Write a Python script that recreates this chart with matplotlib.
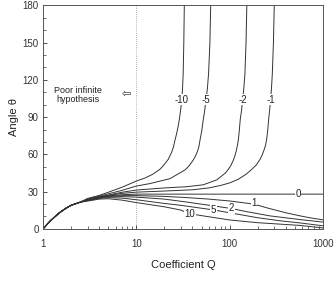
import matplotlib
matplotlib.use("Agg")
import matplotlib.pyplot as plt

plt.rcParams['font.family'] = ['Liberation Sans', 'DejaVu Sans']

# shared start of all curves
Q_START = [1, 1.1, 1.2, 1.35, 1.5, 1.75, 2, 2.5]
T_START = [0, 3.5, 6.5, 10, 13, 16.5, 19, 21.5]

curves = {
    "-10": ([3, 4, 5, 7, 10, 12.4, 15, 17.9, 19.5, 22, 24, 25, 26, 27, 28, 28.9, 29.8, 30.7, 31.3, 31.8, 32.3, 32.7],
            [24.5, 27, 29.5, 33.5, 38.5, 41, 44, 48, 51, 56, 62, 66, 71.6, 76.5, 82, 88, 95, 104, 113, 125, 150, 180]),
    "-5": ([3, 4, 5, 7, 10, 14, 23, 33.3, 37, 40.8, 43, 45, 46.8, 48.2, 50.3, 52.2, 54, 55.8, 57.8, 59.5, 61.5, 62.7],
           [24, 26.3, 28.2, 31, 34.5, 36.5, 40.5, 47.5, 51, 55.5, 58.5, 62, 66, 71.6, 79, 88, 95, 104, 113, 125, 150, 180]),
    "-2": ([3, 4, 5, 7, 10, 20, 35, 52, 73, 90, 97, 103, 110, 114, 118, 121, 124, 127, 130, 134, 138, 142, 146, 150, 153],
           [23.7, 25.8, 27.2, 29.5, 31.3, 33, 34, 35.5, 39.5, 45, 48, 51, 55.5, 59, 63, 67, 71.6, 79, 88, 95, 104, 113, 125, 150, 180]),
    "-1": ([3, 4, 5, 7, 10, 20, 40, 60, 80, 100, 124, 150, 173, 193, 212, 225, 235, 243, 249, 256, 262, 268, 275, 281, 287, 295, 301],
           [23.5, 25.6, 26.9, 28.6, 29.6, 30.5, 31.5, 33, 35, 37, 40, 44, 48, 51.5, 56, 60, 64, 67.5, 71.6, 79, 88, 95, 104, 113, 125, 150, 180]),
    "0": ([3, 4, 5, 7, 10, 1000],
          [23.3, 25.4, 26.6, 27.5, 28, 28]),
    "1": ([3, 4, 5, 7, 10, 20, 35, 60, 100, 184, 250, 400, 570, 720, 1000],
          [23.2, 25.2, 26.2, 26.8, 26.8, 26.2, 25.2, 24, 22.5, 19.9, 17, 13, 10.5, 9, 7.3]),
    "2": ([3, 4, 5, 7, 10, 20, 35, 57, 105, 150, 270, 570, 1000],
          [23, 25, 25.8, 26, 25.6, 24, 21.6, 19.3, 16.4, 14, 10.5, 7.5, 5.5]),
    "5": ([3, 4, 5, 7, 10, 20, 30, 67, 100, 200, 350, 570, 1000],
          [22.8, 24.6, 25.2, 24.8, 23.5, 20.5, 19, 15.3, 13, 9, 6.5, 4.8, 2.5]),
    "10": ([3, 4, 5, 7, 10, 20, 29.5, 37.6, 50, 100, 200, 570, 1000],
           [22.4, 24, 24.3, 23.2, 21.2, 17.8, 15.3, 12.2, 10.7, 7.2, 5, 2.8, 0.8]),
}

# label positions (Q, angle)
label_pos = {
    "-10": (30.7, 104), "-5": (55.8, 104), "-2": (138, 104), "-1": (275, 104),
    "0": (545, 28), "1": (184, 20.5), "2": (105, 16.8), "5": (67, 15.3), "10": (37.6, 12.2),
}

x_ticks = [1, 10, 100, 1000]
y_ticks = [0, 30, 60, 90, 120, 150, 180]

fig = plt.figure(figsize=(3.36, 2.84), dpi=100)
ax = fig.add_axes([0.128, 0.194, 0.833, 0.787])

for name, (qs, ts) in curves.items():
    ax.plot(Q_START + qs, T_START + ts, color='#333333', lw=0.7, zorder=2)
    lq, lt = label_pos[name]
    ax.text(lq, lt, name, fontsize=7, ha='center', va='center', color='#222222', zorder=4,
            bbox=dict(boxstyle='square,pad=0.05', fc='white', ec='none'))

ax.axvline(10, color='#999999', lw=0.6, ls=(0, (1, 1.5)), zorder=1)
ax.text(2.37, 108, "Poor infinite\nhypothesis", fontsize=6.5, ha='center', va='center',
        color='#222222', linespacing=1.0)
ax.text(7.9, 109, "\u21e6", fontsize=8, ha='center', va='center', color='#333333',
        family=['DejaVu Sans'])

ax.set_xscale('log')
ax.set_xlim(1, 1000)
ax.set_ylim(0, 180)
ax.set_xticks(x_ticks)
ax.set_xticklabels([str(v) for v in x_ticks])
ax.set_yticks(y_ticks)
ax.set_yticks(range(0, 181, 10), minor=True)
ax.tick_params(which='both', direction='in', labelsize=7, colors='#333333', pad=3)
ax.tick_params(which='major', length=3, width=0.6)
ax.tick_params(which='minor', length=2, width=0.5)
ax.tick_params(axis='x', pad=7)
for s in ax.spines.values():
    s.set_color('#555555')
    s.set_linewidth(0.7)

ax.set_xlabel("Coefficient Q", fontsize=8, color='#222222', labelpad=8)
ax.set_ylabel("Angle \u03b8", fontsize=8, color='#222222', labelpad=3)

fig.savefig("out.png", dpi=100)
